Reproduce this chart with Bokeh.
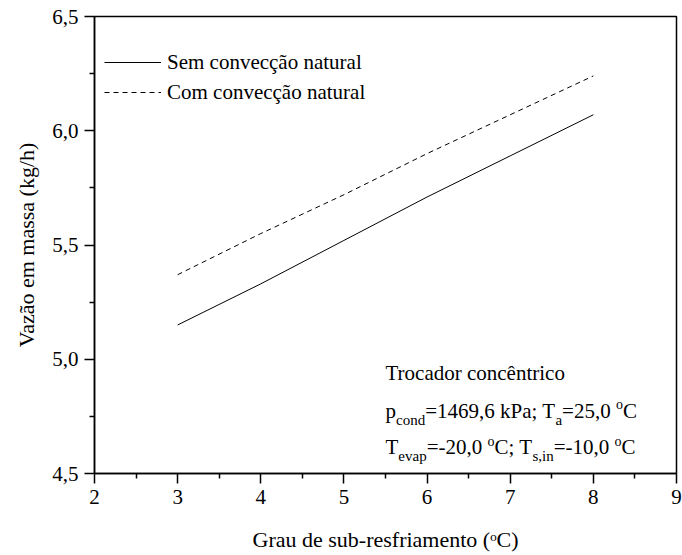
from bokeh.plotting import figure
from bokeh.models import Label, Legend, LegendItem, FixedTicker, Range1d, CustomJSTickFormatter
from bokeh.embed import file_html
from bokeh.resources import INLINE

# ---- data ----
subcooling = [3, 4, 5, 6, 7, 8]
sem_conveccao = [5.15, 5.33, 5.52, 5.71, 5.89, 6.07]
com_conveccao = [5.37, 5.55, 5.72, 5.90, 6.07, 6.24]
x_ticks = [2, 3, 4, 5, 6, 7, 8, 9]
y_ticks = [4.5, 5.0, 5.5, 6.0, 6.5]
legend_labels = ["Sem convecção natural", "Com convecção natural"]
x_title = "Grau de sub-resfriamento (ᵒC)"
y_title = "Vazão em massa (kg/h)"
annot_lines = [
    [("Trocador concêntrico", "n")],
    [("p", "n"), ("cond", "sub"), ("=1469,6 kPa; T", "n"), ("a", "sub"),
     ("=25,0 ", "n"), ("o", "sup"), ("C", "n")],
    [("T", "n"), ("evap", "sub"), ("=-20,0 ", "n"), ("o", "sup"), ("C; T", "n"),
     ("s,in", "sub"), ("=-10,0 ", "n"), ("o", "sup"), ("C", "n")],
]
annot_x = 5.5
annot_y = [4.94, 4.775, 4.615]

FONT = "Liberation Serif"
SIZES = {"n": 21, "sub": 15, "sup": 14}
OFFS = {"n": 0, "sub": -9, "sup": 6}

# Times-Roman advance widths (per 1000 em)
W = {" ": 250, "(": 333, ")": 333, ",": 250, "-": 333, ".": 250, "/": 278, ";": 278,
     "=": 564, "A": 722, "C": 667, "G": 722, "P": 556, "S": 556, "T": 611, "V": 722,
     "a": 444, "b": 500, "c": 444, "d": 500, "e": 444, "f": 333, "g": 500, "h": 500,
     "i": 278, "j": 278, "k": 500, "l": 278, "m": 778, "n": 500, "o": 500, "p": 500,
     "q": 500, "r": 333, "s": 389, "t": 278, "u": 500, "v": 500, "w": 722, "x": 500,
     "y": 500, "z": 444, "ã": 444, "ç": 444, "ê": 444}
for d in "0123456789":
    W[d] = 500


def tw(s, size):
    return sum(W.get(ch, 500) for ch in s) * size / 1000.0


p = figure(width=682, height=555, x_range=Range1d(2, 9), y_range=Range1d(4.5, 6.5),
           output_backend="svg", toolbar_location=None,
           min_border_left=94, min_border_right=6, min_border_top=16, min_border_bottom=82)
p.xgrid.visible = False
p.ygrid.visible = False
p.outline_line_color = "black"
p.outline_line_width = 1.5
p.background_fill_color = "white"
p.border_fill_color = "white"

for axs in (p.xaxis, p.yaxis):
    axs.axis_line_width = 1.5
    axs.axis_line_color = "black"
    axs.major_tick_line_width = 1.5
    axs.minor_tick_line_width = 1.5
    axs.major_tick_line_color = "black"
    axs.minor_tick_line_color = "black"
    axs.major_tick_in = 0
    axs.major_tick_out = 10
    axs.minor_tick_in = 0
    axs.minor_tick_out = 5
    axs.major_label_text_font = FONT
    axs.major_label_text_font_size = "21px"
    axs.major_label_text_color = "black"
    axs.major_label_standoff = 6
    axs.axis_label_text_font = FONT
    axs.axis_label_text_font_size = "22px"
    axs.axis_label_text_font_style = "normal"
    axs.axis_label_text_color = "black"

p.xaxis.axis_label = x_title
p.yaxis.axis_label = y_title
p.xaxis.axis_label_standoff = 20
p.yaxis.axis_label_standoff = 10

p.xaxis.ticker = FixedTicker(ticks=x_ticks,
                             minor_ticks=[(a + b) / 2 for a, b in zip(x_ticks[:-1], x_ticks[1:])])
p.yaxis.ticker = FixedTicker(ticks=y_ticks,
                             minor_ticks=[(a + b) / 2 for a, b in zip(y_ticks[:-1], y_ticks[1:])])
p.xaxis.formatter = CustomJSTickFormatter(code="return tick.toFixed(0);")
p.yaxis.formatter = CustomJSTickFormatter(code="return tick.toFixed(1).replace('.', ',');")

r1 = p.line(subcooling, sem_conveccao, line_color="black", line_width=1)
r2 = p.line(subcooling, com_conveccao, line_color="black", line_width=1, line_dash="5 4")

legend = Legend(items=[LegendItem(label=legend_labels[0], renderers=[r1]),
                       LegendItem(label=legend_labels[1], renderers=[r2])],
                location=(10, 366), border_line_color=None, background_fill_alpha=0,
                label_text_font=FONT, label_text_font_size="21px", label_text_color="black",
                glyph_width=57, glyph_height=30, label_height=30, spacing=0,
                padding=0, margin=0, label_standoff=6)
p.add_layout(legend)


def rich(x, y, segs):
    off = 0.0
    for t, r in segs:
        p.add_layout(Label(x=x, y=y, x_offset=off, y_offset=OFFS[r], text=t,
                           text_font=FONT, text_font_size=f"{SIZES[r]}px",
                           text_color="black", text_align="left",
                           text_baseline="alphabetic"))
        off += tw(t, SIZES[r])


for segs, yy in zip(annot_lines, annot_y):
    rich(annot_x, yy, segs)

open("out.html", "w").write(file_html(p, INLINE))
